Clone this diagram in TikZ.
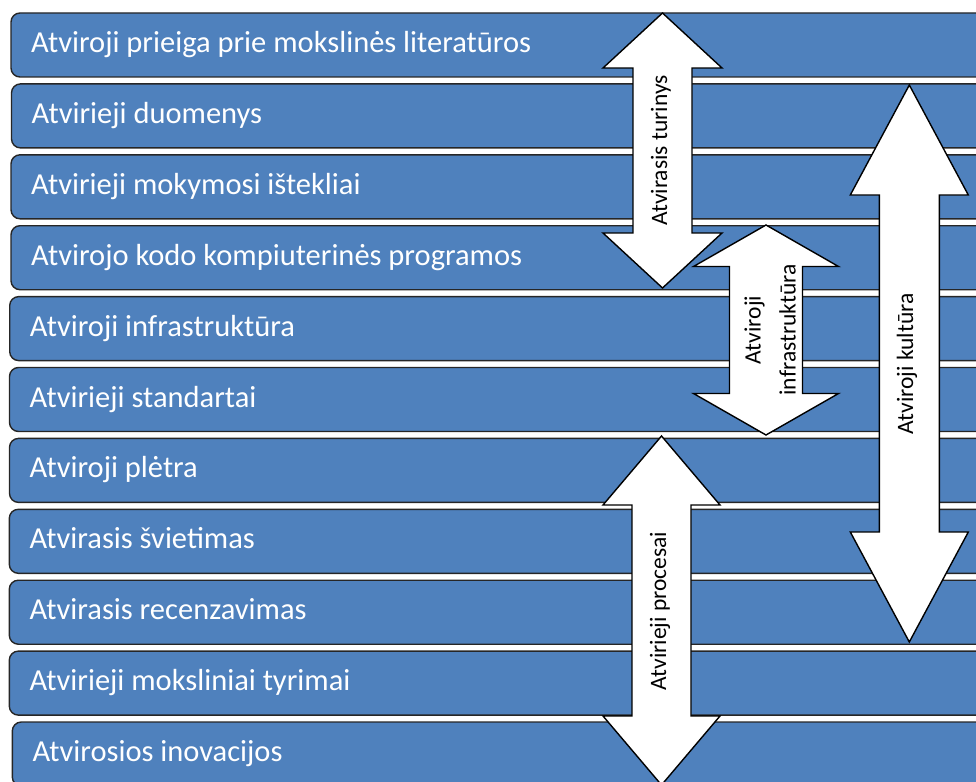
\documentclass[tikz,border=0pt]{standalone}
\usepackage{fontspec}
\setmainfont{Carlito}
\definecolor{barblue}{HTML}{4F81BD}
\newcommand\dblarr[6]{% cx, top, bottom, head half-width, shaft half-width, head length
  \draw[arrowshape] (#1,#2) -- (#1+#4,#2+#6) -- (#1+#5,#2+#6) -- (#1+#5,#3-#6)
    -- (#1+#4,#3-#6) -- (#1,#3) -- (#1-#4,#3-#6) -- (#1-#5,#3-#6)
    -- (#1-#5,#2+#6) -- (#1-#4,#2+#6) -- cycle;}
\begin{document}
\begin{tikzpicture}[x=1pt,y=-1pt,
  bar/.style={draw=black!85, line width=1.4pt, fill=barblue, rounded corners=9pt},
  bartext/.style={anchor=base west, inner sep=0pt, text=white, font=\fontsize{30.5}{36}\selectfont},
  arrowshape/.style={draw=black, line width=1.4pt, fill=white, line join=miter},
  arrowtext/.style={rotate=90, text=black, font=\fontsize{23.5}{35}\selectfont, align=center, inner sep=0pt}]
\useasboundingbox (0,0) rectangle (976,781);
\clip (0,0) rectangle (976,781);
\foreach \i/\l/\t in {
  1/11/{Atviroji prieiga prie mokslinės literatūros},
  2/11.5/{Atvirieji duomenys},
  3/11/{Atvirieji mokymosi ištekliai},
  4/11/{Atvirojo kodo kompiuterinės programos},
  5/9.7/{Atviroji infrastruktūra},
  6/9.5/{Atvirieji standartai},
  7/9.5/{Atviroji plėtra},
  8/9.3/{Atvirasis švietimas},
  9/9.3/{Atvirasis recenzavimas},
  10/9.3/{Atvirieji moksliniai tyrimai},
  11/12.3/{Atvirosios inovacijos}}{
  \pgfmathsetmacro\top{13+70.9*(\i-1)}
  \draw[bar] (\l,\top) rectangle (1010,\top+64);
  \node[bartext] (b\i) at (\l+20,\top+39.5) {\t};
}
\dblarr{662.5}{13}{288}{59.5}{29.5}{55}
\dblarr{766}{225}{435}{72.5}{36.5}{41.5}
\dblarr{661.5}{436}{785}{58.5}{29.5}{69}
\dblarr{909.3}{85}{642}{59}{30}{110}
\node[arrowtext] (t1) at (661,150.5) {Atvirasis turinys};
\node[arrowtext] (t2) at (770,330) {Atviroji\\infrastruktūra};
\node[arrowtext] (t3) at (660,611) {Atvirieji procesai};
\node[arrowtext] (t4) at (907,364) {Atviroji kultūra};
\end{tikzpicture}
\end{document}
